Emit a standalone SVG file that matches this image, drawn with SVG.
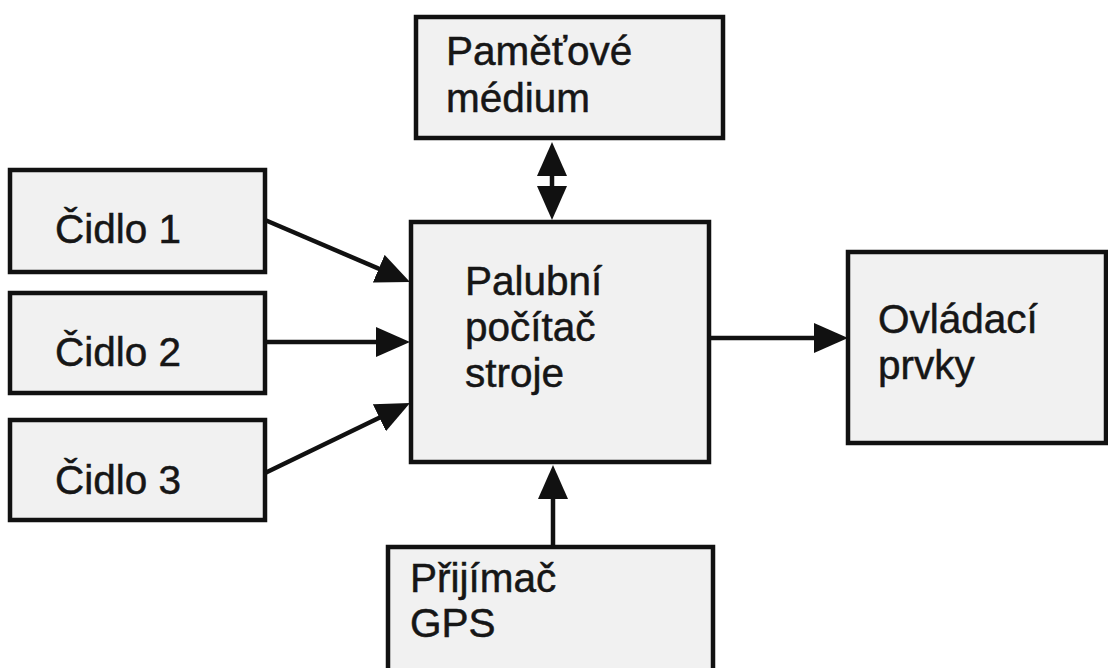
<svg xmlns="http://www.w3.org/2000/svg" width="1108" height="668" viewBox="0 0 1108 668">
<style>
.box{fill:#f1f1f1;stroke:#111;stroke-width:4.5}
.lbl{font-family:"Liberation Sans",Arial,sans-serif;font-size:40.5px;fill:#161616;stroke:#161616;stroke-width:0.5}
.con{stroke:#111;stroke-width:4.5;fill:none}
</style>
<defs>
<marker id="ah" markerUnits="userSpaceOnUse" markerWidth="36" markerHeight="32" refX="24" refY="15" orient="auto-start-reverse" viewBox="0 0 36 32">
<path d="M0,0 L34,15 L0,30 Z" fill="#111"/>
</marker>
</defs>
<rect width="1108" height="668" fill="#fff"/>
<g id="pamet">
<rect class="box" x="416" y="17" width="307" height="121"/>
<text class="lbl" x="446" y="65">Paměťové</text>
<text class="lbl" x="446" y="112">médium</text>
</g>
<g id="cidlo1">
<rect class="box" x="10" y="170" width="255" height="102"/>
<text class="lbl" x="55" y="243">Čidlo 1</text>
</g>
<g id="cidlo2">
<rect class="box" x="10" y="293" width="255" height="100"/>
<text class="lbl" x="55" y="366">Čidlo 2</text>
</g>
<g id="cidlo3">
<rect class="box" x="10" y="420" width="255" height="100"/>
<text class="lbl" x="55" y="494">Čidlo 3</text>
</g>
<g id="palubni">
<rect class="box" x="411" y="222" width="298" height="240"/>
<text class="lbl" x="465" y="295">Palubní</text>
<text class="lbl" x="465" y="341">počítač</text>
<text class="lbl" x="465" y="387">stroje</text>
</g>
<g id="ovladaci">
<rect class="box" x="848" y="252" width="258" height="191"/>
<text class="lbl" x="878" y="333">Ovládací</text>
<text class="lbl" x="878" y="379">prvky</text>
</g>
<g id="gps">
<rect class="box" x="388" y="547" width="325" height="130"/>
<text class="lbl" x="410" y="592">Přijímač</text>
<text class="lbl" x="410" y="637">GPS</text>
</g>
<g id="connectors">
<line class="con" x1="265" y1="220" x2="400.8" y2="278.1" marker-end="url(#ah)"/>
<line class="con" x1="265" y1="342" x2="400" y2="342" marker-end="url(#ah)"/>
<line class="con" x1="265" y1="473" x2="401" y2="407.3" marker-end="url(#ah)"/>
<line class="con" x1="709" y1="338" x2="838" y2="338" marker-end="url(#ah)"/>
<line class="con" x1="553" y1="547" x2="553" y2="475" marker-end="url(#ah)"/>
<line class="con" x1="552" y1="152" x2="552" y2="210" marker-start="url(#ah)" marker-end="url(#ah)"/>
</g>
</svg>
